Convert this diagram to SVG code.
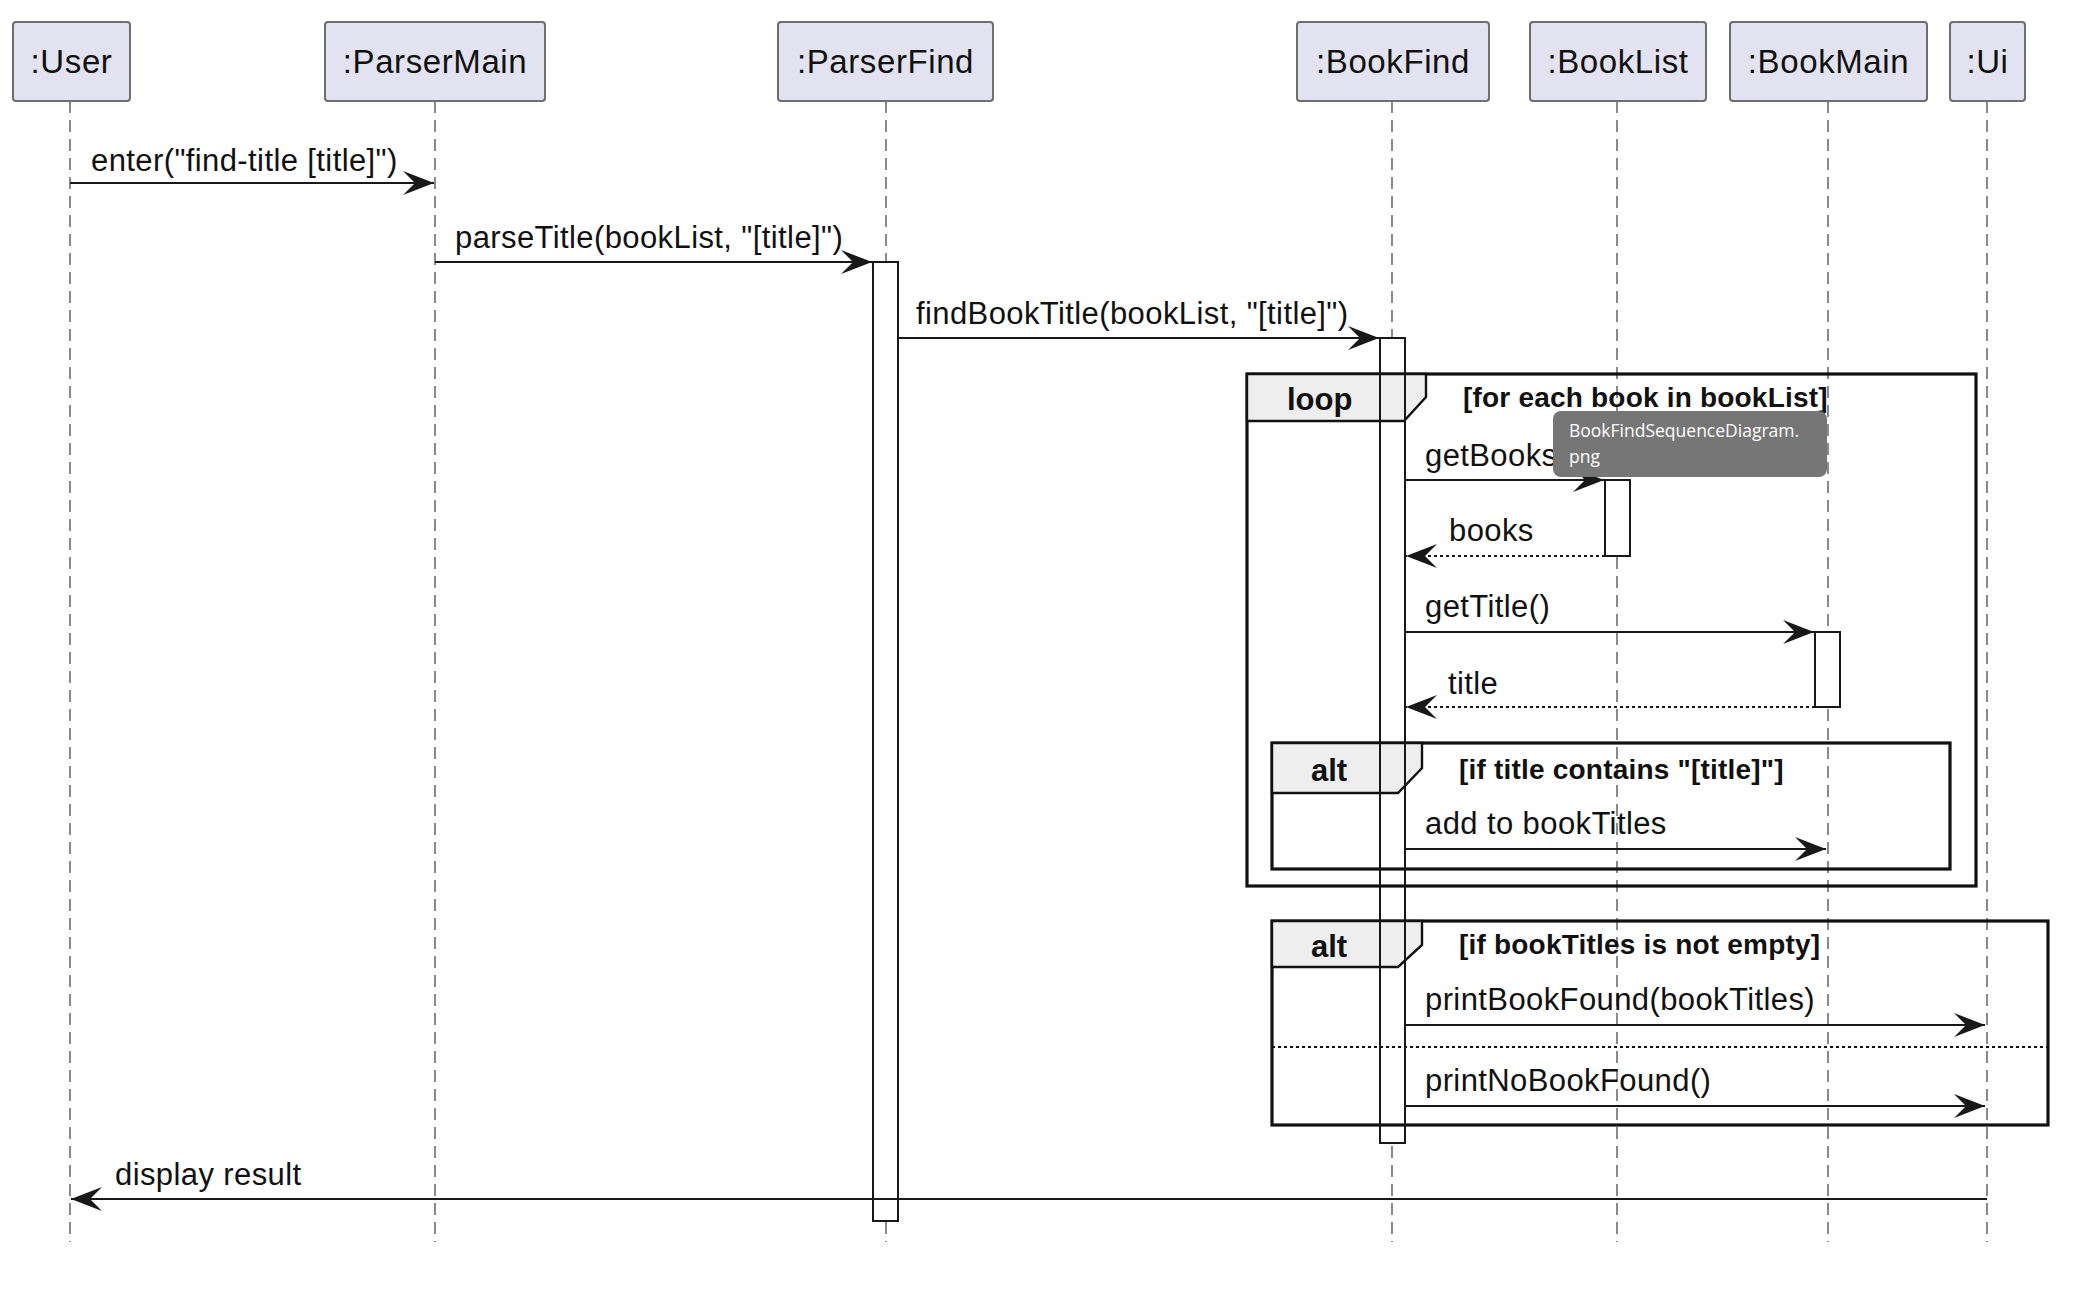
<svg xmlns="http://www.w3.org/2000/svg" width="2075" height="1293" viewBox="0 0 2075 1293">
<defs>
<style>
.pbox{fill:#E2E2F0;stroke:#6e6e6e;stroke-width:2}
.ptxt{font-family:"Liberation Sans",Arial,sans-serif;font-size:33px;letter-spacing:0.6px;fill:#111;text-anchor:middle}
.life{stroke:#6e6e6e;stroke-width:1.6;stroke-dasharray:12,7;fill:none}
.act{fill:#fff;stroke:#181818;stroke-width:2}
.actl{fill:none;stroke:#181818;stroke-width:2}
.msg{stroke:#181818;stroke-width:2.2;fill:none}
.ret{stroke:#181818;stroke-width:2.2;fill:none;stroke-dasharray:3,3}
.mtxt{font-family:"Liberation Sans",Arial,sans-serif;font-size:31px;letter-spacing:0.4px;fill:#111}
.frame{fill:none;stroke:#111;stroke-width:3.2}
.tab{fill:#EEEEEE;stroke:#111;stroke-width:2.4}
.ftxt{font-family:"Liberation Sans",Arial,sans-serif;font-size:31px;font-weight:bold;fill:#111}
.gtxt{font-family:"Liberation Sans",Arial,sans-serif;font-size:28px;font-weight:bold;letter-spacing:0.2px;fill:#111}
.div{stroke:#111;stroke-width:2;stroke-dasharray:3,3}
</style>
<marker id="ah" markerUnits="userSpaceOnUse" viewBox="-34 -14 36 28" markerWidth="36" markerHeight="28" refX="0" refY="0" orient="auto">
<path d="M0,0 L-31,-12 L-19,0 L-31,12 Z" fill="#181818"/>
</marker>
</defs>
<rect width="2075" height="1293" fill="#fff"/>

<g id="lifelines">
<line class="life" x1="70" y1="101" x2="70" y2="1242"/>
<line class="life" x1="435" y1="101" x2="435" y2="1242"/>
<line class="life" x1="886" y1="101" x2="886" y2="1242"/>
<line class="life" x1="1392" y1="101" x2="1392" y2="1242"/>
<line class="life" x1="1617" y1="101" x2="1617" y2="1242"/>
<line class="life" x1="1828" y1="101" x2="1828" y2="1242"/>
<line class="life" x1="1987" y1="101" x2="1987" y2="1242"/>
</g>

<g id="activations">
<rect class="act" x="873" y="262" width="25" height="959"/>
<rect class="act" x="1380" y="338" width="25" height="805"/>
<rect class="act" x="1605" y="480" width="25" height="76"/>
<rect class="act" x="1815" y="632" width="25" height="75"/>
</g>

<g id="loop">
<rect class="frame" x="1247" y="374" width="729" height="512"/>
<path class="tab" d="M1247,374 L1426,374 L1426,397 L1404,421 L1247,421 Z"/>
<text class="ftxt" x="1287" y="410">loop</text>
<text class="gtxt" x="1463" y="407">[for each book in bookList]</text>
</g>

<g id="alt-contains">
<rect class="frame" x="1272" y="743" width="678" height="126"/>
<path class="tab" d="M1272,743 L1422,743 L1422,768 L1398,793 L1272,793 Z"/>
<text class="ftxt" x="1311" y="781">alt</text>
<text class="gtxt" x="1459" y="779">[if title contains "[title]"]</text>
</g>

<g id="alt-empty">
<rect class="frame" x="1272" y="921" width="776" height="204"/>
<path class="tab" d="M1272,921 L1422,921 L1422,945 L1398,967 L1272,967 Z"/>
<text class="ftxt" x="1311" y="957">alt</text>
<text class="gtxt" x="1459" y="954">[if bookTitles is not empty]</text>
<line class="div" x1="1272" y1="1047" x2="2048" y2="1047"/>
</g>

<g id="activation-outline">
<rect class="actl" x="1380" y="338" width="25" height="805"/>
</g>

<g id="connectors">
<line class="msg" x1="70" y1="183" x2="434" y2="183" marker-end="url(#ah)"/>
<text class="mtxt" x="91" y="171">enter("find-title [title]")</text>
<line class="msg" x1="435" y1="262" x2="872" y2="262" marker-end="url(#ah)"/>
<text class="mtxt" x="455" y="248">parseTitle(bookList, "[title]")</text>
<line class="msg" x1="898" y1="338" x2="1379" y2="338" marker-end="url(#ah)"/>
<text class="mtxt" x="916" y="324">findBookTitle(bookList, "[title]")</text>
<line class="msg" x1="1405" y1="480" x2="1604" y2="480" marker-end="url(#ah)"/>
<text class="mtxt" x="1425" y="466">getBooks</text>
<line class="ret" x1="1605" y1="556" x2="1406" y2="556" marker-end="url(#ah)"/>
<text class="mtxt" x="1449" y="541">books</text>
<line class="msg" x1="1405" y1="632" x2="1814" y2="632" marker-end="url(#ah)"/>
<text class="mtxt" x="1425" y="617">getTitle()</text>
<line class="ret" x1="1815" y1="707" x2="1406" y2="707" marker-end="url(#ah)"/>
<text class="mtxt" x="1448" y="694">title</text>
<line class="msg" x1="1405" y1="849" x2="1826" y2="849" marker-end="url(#ah)"/>
<text class="mtxt" x="1425" y="834">add to bookTitles</text>
<line class="msg" x1="1405" y1="1025" x2="1985" y2="1025" marker-end="url(#ah)"/>
<text class="mtxt" x="1425" y="1010">printBookFound(bookTitles)</text>
<line class="msg" x1="1405" y1="1106" x2="1985" y2="1106" marker-end="url(#ah)"/>
<text class="mtxt" x="1425" y="1091">printNoBookFound()</text>
<line class="msg" x1="1987" y1="1199" x2="71" y2="1199" marker-end="url(#ah)"/>
<text class="mtxt" x="115" y="1185">display result</text>
</g>

<g id="p-user"><rect class="pbox" x="13" y="22" width="117" height="79" rx="3"/><text class="ptxt" x="71.5" y="73">:User</text></g>
<g id="p-parsermain"><rect class="pbox" x="325" y="22" width="220" height="79" rx="3"/><text class="ptxt" x="435" y="73">:ParserMain</text></g>
<g id="p-parserfind"><rect class="pbox" x="778" y="22" width="215" height="79" rx="3"/><text class="ptxt" x="885.5" y="73">:ParserFind</text></g>
<g id="p-bookfind"><rect class="pbox" x="1297" y="22" width="192" height="79" rx="3"/><text class="ptxt" x="1393" y="73">:BookFind</text></g>
<g id="p-booklist"><rect class="pbox" x="1530" y="22" width="176" height="79" rx="3"/><text class="ptxt" x="1618" y="73">:BookList</text></g>
<g id="p-bookmain"><rect class="pbox" x="1730" y="22" width="197" height="79" rx="3"/><text class="ptxt" x="1828.5" y="73">:BookMain</text></g>
<g id="p-ui"><rect class="pbox" x="1950" y="22" width="75" height="79" rx="3"/><text class="ptxt" x="1987.5" y="73">:Ui</text></g>

<g id="tooltip">
<rect x="1553" y="411" width="274" height="66" rx="8" fill="#767676"/>
<text x="1569" y="437" font-family="'Open Sans','Noto Sans',sans-serif" font-size="17.5" fill="#fff">BookFindSequenceDiagram.</text>
<text x="1569" y="463" font-family="'Open Sans','Noto Sans',sans-serif" font-size="17.5" fill="#fff">png</text>
</g>
</svg>
